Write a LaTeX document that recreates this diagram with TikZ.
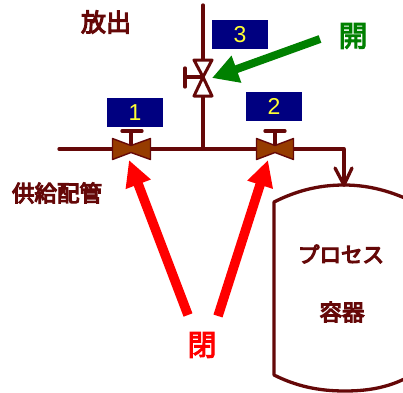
\documentclass[tikz,border=0pt]{standalone}
\usepackage{fontspec}
\setmainfont{Noto Sans CJK JP}
\setsansfont{Liberation Sans}
\usetikzlibrary{arrows.meta}
\newcommand{\heavytext}[1]{\special{pdf:code 2 Tr 1.15 w}#1\special{pdf:code 0 Tr 1 w}}
\definecolor{pipe}{HTML}{650808}
\definecolor{valvefill}{HTML}{963C00}
\definecolor{darkgreen}{HTML}{008000}
\definecolor{boxnavy}{HTML}{000080}
\definecolor{numyellow}{HTML}{FFFF33}
\tikzset{
  pipeline/.style={draw=pipe,line width=3.3pt,line cap=round,line join=round},
  valvebody/.style={draw=pipe,line width=1.4pt,fill=valvefill,line join=round},
  openvalve/.style={draw=pipe,line width=3pt,fill=white,line join=round},
  numbox/.style={fill=boxnavy,text=numyellow,minimum width=56pt,minimum height=29pt,inner sep=0pt,font=\sffamily\fontsize{23}{23}\selectfont},
  lab/.style={text=pipe,font=\fontsize{22.5}{22.5}\selectfont,inner sep=0pt},
  state/.style={font=\fontsize{29}{29}\selectfont,inner sep=0pt},
  callred/.style={draw=red,line width=9.5pt,-{Triangle[length=26pt,width=25pt]}},
  callgreen/.style={draw=darkgreen,line width=8pt,-{Triangle[length=26pt,width=27pt]}}
}
\begin{document}
\begin{tikzpicture}[x=1pt,y=-1pt]
\useasboundingbox (0,0) rectangle (403,392);
\fill[white] (0,0) rectangle (403,392);
% junctions and ends
\coordinate (inlet) at (59,149);
\coordinate (vent) at (203,5);
\coordinate (tee) at (203,149);
\coordinate (elbow) at (344,149);
\coordinate (v1) at (131,149);
\coordinate (v2) at (275,149);
\coordinate (v3) at (203,77);
\coordinate (vtop) at (344,185);
% piping
\draw[pipeline] (inlet) -- (elbow) -- (vtop);
\draw[pipeline] (vent) -- (tee);
\draw[pipeline] (335,168) -- (vtop) -- (352,168);
% vessel
\begin{scope}
\clip (0,0) rectangle (403,392);
\draw[draw=pipe,line width=3.3pt,line join=round]
  (425,208) .. controls (398,193) and (372,185) .. (vtop)
  .. controls (318,185) and (296,191) .. (274,202)
  -- (274,375) .. controls (296,386) and (318,391) .. (345,391)
  .. controls (372,391) and (392,386) .. (410,376);
\end{scope}
% valve 1
\draw[pipeline] (v1) -- (131,131);
\draw[pipeline] (122,131) -- (142,131);
\draw[valvebody] (112.5,138.5) -- (131,145.5) -- (150.5,138.5) -- (150.5,159.5) -- (131,152.5) -- (112.5,159.5) -- cycle;
% valve 2
\draw[pipeline] (v2) -- (275,131);
\draw[pipeline] (265,131) -- (285,131);
\draw[valvebody] (256.5,138.5) -- (275,145.5) -- (293.5,138.5) -- (293.5,159.5) -- (275,152.5) -- (256.5,159.5) -- cycle;
% valve 3
\draw[openvalve] (194,60) -- (212,60) -- (v3) -- (212,96) -- (194,96) -- (v3) -- cycle;
\draw[pipeline] (v3) -- (185,77);
\draw[pipeline] (185,68) -- (185,87);
% number boxes
\node[numbox] (n1) at (135,112.5) {1};
\node[numbox] (n2) at (274,106.5) {2};
\node[numbox] (n3) at (240,34.5) {3};
% labels
\node[lab,font=\fontsize{25}{25}\selectfont] (fang) at (106,22) {\heavytext{放出}};
\node[lab] (gong) at (57,193) {\heavytext{供給配管}};
\node[lab,font=\fontsize{21.5}{21.5}\selectfont] (pro) at (341,254) {\heavytext{プロセス}};
\node[lab] (rong) at (342,312) {\heavytext{容器}};
\node[state,text=darkgreen] (kai) at (353,36) {\heavytext{開}};
\node[state,text=red] (bi) at (202,345) {\heavytext{閉}};
% callouts
\coordinate (r1) at (188,315);
\coordinate (r2) at (218,316);
\coordinate (g1) at (320,39);
\draw[callred] (r1) -- (129,160);
\draw[callred] (r2) -- (268,160);
\draw[callgreen] (g1) -- (212,78);
\end{tikzpicture}
\end{document}
